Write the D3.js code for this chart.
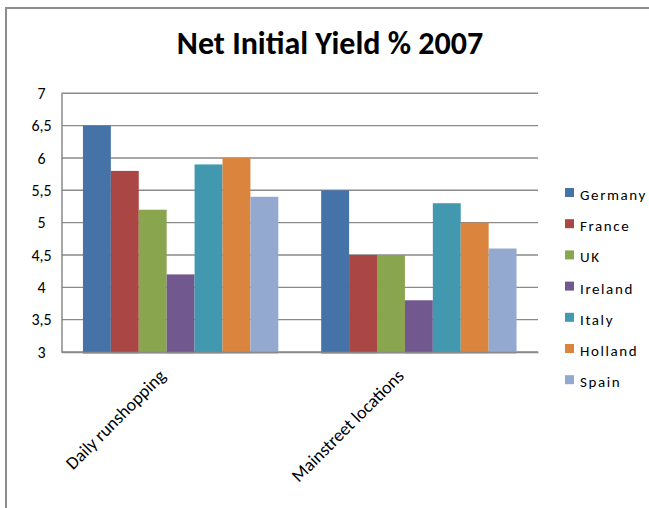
<!DOCTYPE html>
<html><head><meta charset="utf-8">
<script src="https://cdn.jsdelivr.net/npm/d3@7"></script>
<style>body{margin:0;background:#fff;} text{font-family:Carlito,Calibri,Lato,sans-serif;}</style>
</head><body><svg id="c" width="649" height="508"></svg>
<script>
const categories = ["Daily runshopping", "Mainstreet locations"];
const seriesNames = ["Germany", "France", "UK", "Ireland", "Italy", "Holland", "Spain"];
const germany = [6.5, 5.5];
const france = [5.8, 4.5];
const uk = [5.2, 4.5];
const ireland = [4.2, 3.8];
const italy = [5.9, 5.3];
const holland = [6.0, 5.0];
const spain = [5.4, 4.6];
const yTicks = [3, 3.5, 4, 4.5, 5, 5.5, 6, 6.5, 7];
const colors = ["#4572A7", "#AA4643", "#89A54E", "#71588F", "#4198AF", "#DB843D", "#93A9CF"];
const values = [germany, france, uk, ireland, italy, holland, spain];

const svg = d3.select("#c");
// outer frame
svg.append("rect").attr("x",6).attr("y",8).attr("width",700).attr("height",560)
  .attr("fill","none").attr("stroke","#8c8c8c").attr("stroke-width",2);

const m = {l:61.5, r:538, t:93.3, b:352};
const x0 = d3.scaleBand().domain(categories).range([m.l, m.r]).paddingInner(0.18).paddingOuter(0.09);
const x1 = d3.scaleBand().domain(seriesNames).range([0, x0.bandwidth()]);
const y = d3.scaleLinear().domain([3,7]).range([m.b, m.t]);

// gridlines
svg.append("g").selectAll("line").data(yTicks).join("line")
  .attr("x1", m.l).attr("x2", m.r).attr("y1", d=>y(d)).attr("y2", d=>y(d))
  .attr("stroke","#8a8a8a").attr("stroke-width",1.4);

// bars
const data = [];
categories.forEach((c,i)=>seriesNames.forEach((s,j)=>data.push({c, s, v: values[j][i], col: colors[j]})));
svg.append("g").selectAll("rect").data(data).join("rect")
  .attr("x", d=>x0(d.c)+x1(d.s)).attr("width", x1.bandwidth())
  .attr("y", d=>y(d.v)).attr("height", d=>y(3)-y(d.v)+1.5)
  .attr("fill", d=>d.col);

// y axis
const ya = svg.append("g").attr("transform",`translate(${m.l},0)`)
  .call(d3.axisLeft(y).tickValues(yTicks).tickSize(0).tickPadding(0)
    .tickFormat(d=>d3.format("")(d).replace(".",",")));
ya.select(".domain").attr("stroke","#8a8a8a").attr("stroke-width",1.5);
ya.selectAll("text").attr("font-size",16).attr("fill","#000")
  .attr("x",-20).attr("text-anchor","middle")
  .style("font-family","Carlito,Calibri,Lato,sans-serif");

// x axis line
const xa = svg.append("g").attr("transform",`translate(0,${m.b})`)
  .call(d3.axisBottom(x0).tickSize(0).tickFormat(""));
xa.select(".domain").attr("stroke","#8a8a8a").attr("stroke-width",1.4);

// x labels
svg.append("g").selectAll("text").data(categories).join("text")
  .attr("transform", d=>`translate(${x0(d)+x0.bandwidth()/2-14},${m.b+25}) rotate(-45)`)
  .attr("text-anchor","end").attr("font-size",18).attr("fill","#000").text(d=>d);

// title
svg.append("text").attr("x",330).attr("y",54).attr("text-anchor","middle")
  .attr("font-size",32).attr("font-weight","bold").attr("fill","#000").text("Net Initial Yield % 2007");

// legend
const lg = svg.append("g").selectAll("g").data(seriesNames).join("g")
  .attr("transform",(d,i)=>`translate(565,${195+i*31.2})`);
lg.append("rect").attr("x",0).attr("y",-7).attr("width",9).attr("height",9).attr("fill",(d,i)=>colors[i]);
lg.append("text").attr("x",15).attr("y",5).attr("font-size",15).attr("letter-spacing",1.6).attr("fill","#000").text(d=>d);
</script></body></html>
